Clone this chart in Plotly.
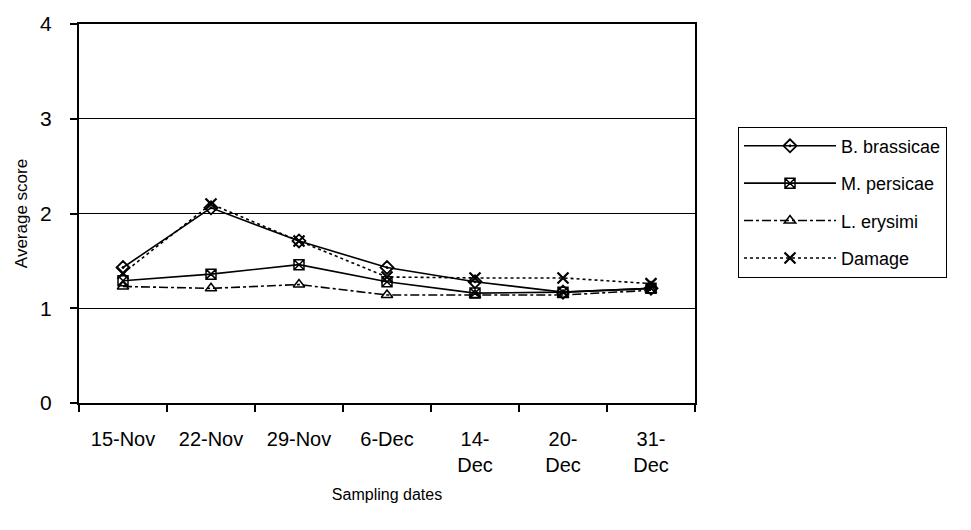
import plotly.graph_objects as go

dates = ["15-Nov", "22-Nov", "29-Nov", "6-Dec", "14-Dec", "20-Dec", "31-Dec"]
tick_labels = ["15-Nov", "22-Nov", "29-Nov", "6-Dec", "14-<br>Dec", "20-<br>Dec", "31-<br>Dec"]
b_brassicae = [1.43, 2.06, 1.71, 1.43, 1.28, 1.17, 1.21]
m_persicae = [1.29, 1.36, 1.46, 1.28, 1.16, 1.17, 1.21]
l_erysimi = [1.23, 1.21, 1.25, 1.14, 1.14, 1.14, 1.19]
damage = [1.37, 2.10, 1.71, 1.33, 1.32, 1.32, 1.26]

FONT = "Liberation Sans, Arial, sans-serif"

fig = go.Figure()
series = [
    ("B. brassicae", b_brassicae, "solid", "diamond-open-dot", 10, 1.8),
    ("M. persicae", m_persicae, "solid", "square-x-open", 10, 1.5),
    ("L. erysimi", l_erysimi, "dashdot", "triangle-up-open", 10, 1.5),
    ("Damage", damage, "dot", "x-thin-open", 11, 2.2),
]
for i, (name, vals, dash, sym, size, mlw) in enumerate(series):
    fig.add_trace(go.Scatter(
        x=dates, y=vals, name=name, mode="lines+markers",
        legendgroup=f"g{i}",
        line=dict(color="black", width=1.6, dash=dash),
        marker=dict(symbol=sym, size=size, color="black",
                    line=dict(color="black", width=mlw)),
    ))

top, bottom = 15, 403
fig.update_layout(
    width=971, height=530,
    margin=dict(l=79, r=276, t=top, b=530 - bottom),
    paper_bgcolor="white", plot_bgcolor="white",
    font=dict(family=FONT, color="black"),
    showlegend=True,
    legend=dict(
        x=(738 - 79) / 616, y=(bottom - 120) / (bottom - top),
        xanchor="left", yanchor="top",
        bordercolor="black", borderwidth=1,
        font=dict(size=18, family=FONT),
        tracegroupgap=11,
        itemwidth=92,
        entrywidth=270, entrywidthmode="pixels",
    ),
    xaxis=dict(
        type="category",
        tickmode="array", tickvals=dates, ticktext=tick_labels,
        tickson="boundaries", ticks="outside", ticklen=7,
        tickcolor="black", tickwidth=1.5,
        showline=True, linecolor="black", linewidth=2, mirror=True,
        showgrid=False,
        tickfont=dict(size=20, family=FONT),
        ticklabelstandoff=17,
        title=dict(text="Sampling dates", font=dict(size=16, family=FONT), standoff=14),
        range=[-0.5, 6.5],
    ),
    yaxis=dict(
        range=[0, 4], tickvals=[0, 1, 2, 3, 4],
        ticks="outside", ticklen=7, tickcolor="black", tickwidth=1.5,
        showline=True, linecolor="black", linewidth=2, mirror=True,
        showgrid=True, gridcolor="black", gridwidth=1,
        zeroline=False,
        tickfont=dict(size=21, family=FONT),
        ticklabelstandoff=14,
        title=dict(text="Average score", font=dict(size=17, family=FONT), standoff=8),
    ),
)

fig.write_html("out.html")
